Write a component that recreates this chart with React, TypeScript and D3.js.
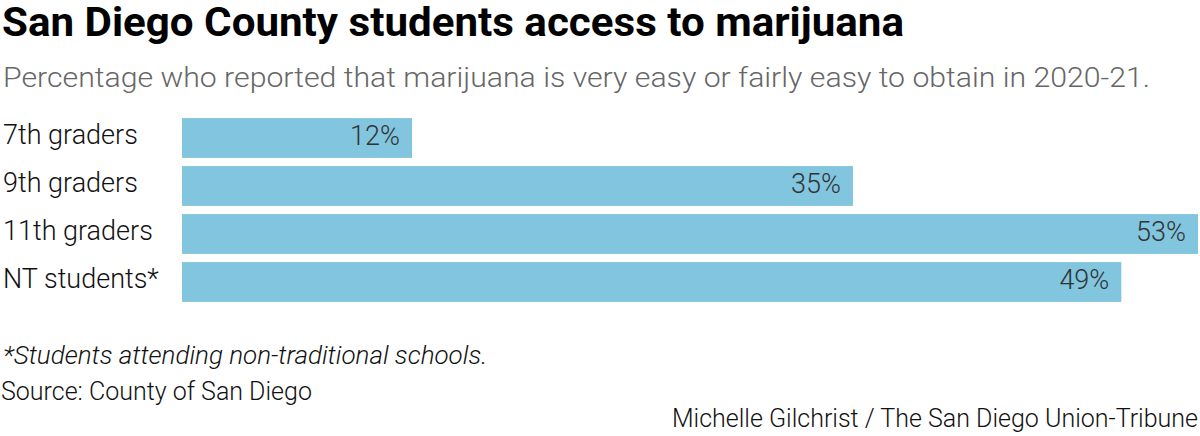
import React from "react";
import * as d3 from "d3";

const categories = ["7th graders", "9th graders", "11th graders", "NT students*"];
const values = [12, 35, 53, 49];
const valueLabels = ["12%", "35%", "53%", "49%"];

const W = 1200;
const H = 436;
const FONT = "Roboto, 'Open Sans', sans-serif";

export default function App() {
  const x = d3.scaleLinear().domain([0, 53]).range([182, 1198]);
  const y = d3.scaleBand<string>().domain(categories).range([114, 306]).paddingInner(0.17).paddingOuter(0.085);
  return (
    <svg width={W} height={H} style={{ position: "absolute", left: 0, top: 0, background: "#fff" }}>
      <text x={2} y={36} fontFamily={FONT} fontWeight={700} fontSize={40} fill="#000" textLength={902} lengthAdjust="spacingAndGlyphs">
        San Diego County students access to marijuana
      </text>
      <text x={3} y={87} fontFamily={FONT} fontWeight={300} fontSize={27} fill="#666" textLength={1147} lengthAdjust="spacingAndGlyphs">
        Percentage who reported that marijuana is very easy or fairly easy to obtain in 2020-21.
      </text>
      {categories.map((c, i) => (
        <g key={c}>
          <text x={3} y={(y(c) as number) + y.bandwidth() / 2 + 6} fontFamily={FONT} fontWeight={300} fontSize={27} fill="#111">
            {c}
          </text>
          <rect x={x(0)} y={y(c)} width={x(values[i]) - x(0)} height={y.bandwidth()} fill="#82c5df" />
          <text x={x(values[i]) - 12} y={(y(c) as number) + y.bandwidth() / 2 + 7} textAnchor="end" fontFamily={FONT} fontWeight={300} fontSize={27} fill="#333">
            {valueLabels[i]}
          </text>
        </g>
      ))}
      <text x={3} y={364} fontFamily={FONT} fontWeight={300} fontStyle="italic" fontSize={26} fill="#111">
        *Students attending non-traditional schools.
      </text>
      <text x={1} y={400} fontFamily={FONT} fontWeight={300} fontSize={25} fill="#111">
        Source: County of San Diego
      </text>
      <text x={1198} y={427} textAnchor="end" fontFamily={FONT} fontWeight={300} fontSize={25} fill="#111">
        Michelle Gilchrist / The San Diego Union-Tribune
      </text>
    </svg>
  );
}
